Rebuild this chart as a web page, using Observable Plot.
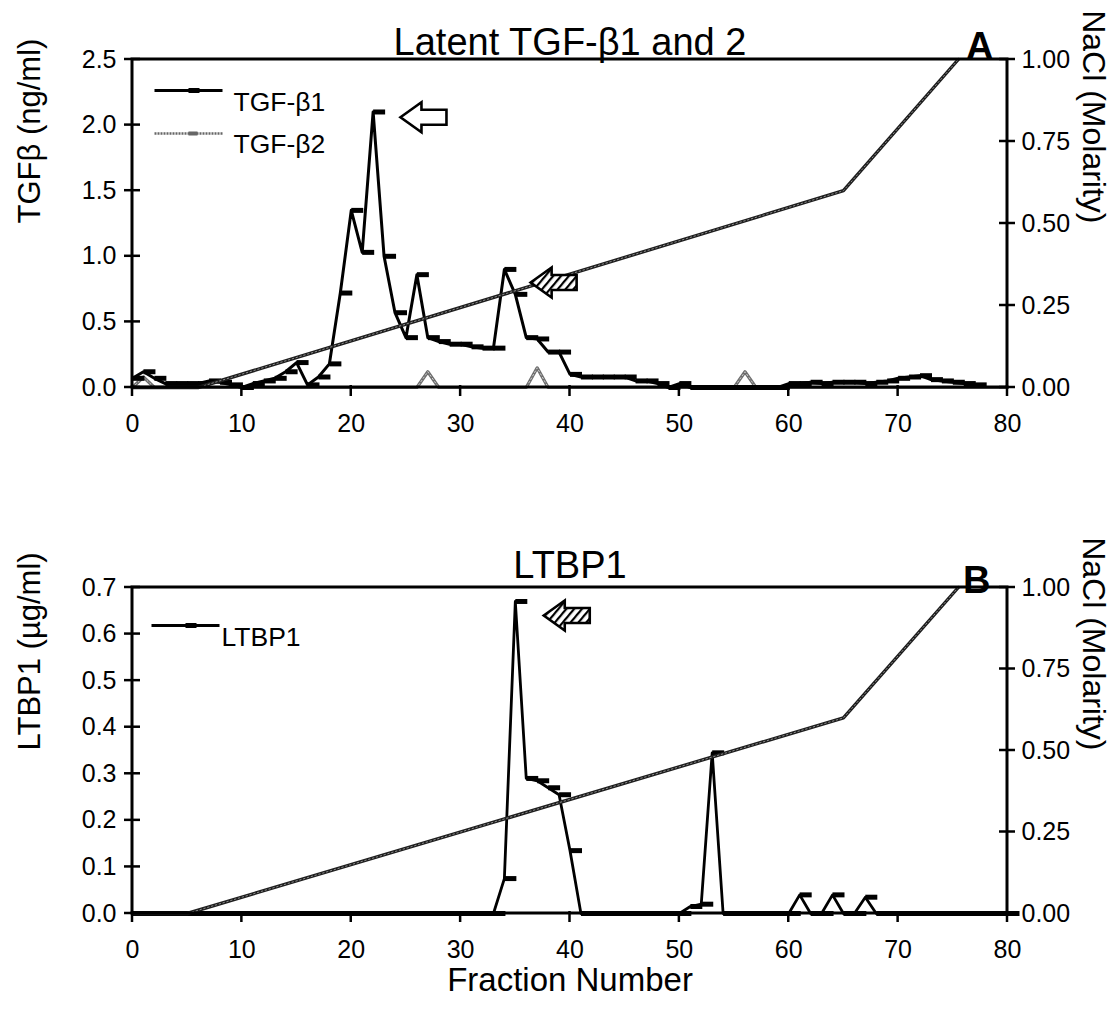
<!DOCTYPE html>
<html><head><meta charset="utf-8">
<script src="https://cdn.jsdelivr.net/npm/d3@7"></script>
<script src="https://cdn.jsdelivr.net/npm/@observablehq/plot@0.6"></script>
<style>
body{margin:0;background:#fff;}
#chart{width:1112px;}
svg{display:block;}
</style></head><body><div id="chart"></div>
<script>
// ---------- data (index = fraction number) ----------
const tgfb1 = [0.07,0.12,0.07,0.03,0.03,0.03,0.03,0.05,0.04,0.02,
  0.00,0.03,0.05,0.07,0.12,0.19,0.02,0.08,0.18,0.72,
  1.35,1.03,2.10,1.00,0.57,0.38,0.86,0.38,0.35,0.33,
  0.33,0.31,0.30,0.30,0.90,0.71,0.38,0.37,0.27,0.27,
  0.10,0.08,0.08,0.08,0.08,0.08,0.05,0.05,0.03,0.00,
  0.03,0.00,0.00,0.00,0.00,0.00,0.00,0.00,0.00,0.00,
  0.03,0.03,0.04,0.03,0.04,0.04,0.04,0.03,0.04,0.05,
  0.07,0.08,0.09,0.06,0.05,0.04,0.03,0.02];
const tgfb2 = [0,0.08,0,0,0,0,0,0,0,0,
  0,0,0,0,0,0,0,0,0,0,
  0,0,0,0,0,0,0,0.12,0,0,
  0,0,0,0,0,0,0,0.15,0,0,
  0,0,0,0,0,0,0,0,0,0,
  0,0,0,0,0,0,0.12,0,0,0,
  0,0,0,0,0,0,0,0,0,0,
  0,0,0,0,0,0,0,0,0,0,0];
const ltbp1 = [0,0,0,0,0,0,0,0,0,0,
  0,0,0,0,0,0,0,0,0,0,
  0,0,0,0,0,0,0,0,0,0,
  0,0,0,0,0.075,0.67,0.29,0.285,0.27,0.255,
  0.135,0,0,0,0,0,0,0,0,0,
  0,0.015,0.02,0.345,0,0,0,0,0,0,
  0,0.04,0,0,0.04,0,0,0.035,0,0,
  0,0,0,0,0,0,0,0,0,0,0];
const naclFractionA = [0, 6, 65, 75.5];
const naclMolarityA = [0, 0, 0.6, 1.0];
const naclFractionB = [0, 5, 65, 75.5];
const naclMolarityB = [0, 0, 0.6, 1.0];
const xDomain = [0, 80];
const xTicks = [0,10,20,30,40,50,60,70,80];
const yTicksA = [0,0.5,1.0,1.5,2.0,2.5];
const yTicksB = [0,0.1,0.2,0.3,0.4,0.5,0.6,0.7];
const naclTicks = [0,0.25,0.5,0.75,1.0];
const arrowFractionA = [24.5, 36.4];
const arrowValueA = [2.06, 0.80];
const arrowKindA = ["open","hatched"];
const arrowFractionB = [37.6];
const arrowValueB = [0.64];
const arrowKindB = ["hatched"];

// ---------- tables ----------
const toRows = vals => vals.map((v,i)=>({fraction:i, value:v}));
const naclRows = (f,m) => f.map((x,i)=>({fraction:x, molarity:m[i]}));
const arrowRows = (f,v,k) => f.map((x,i)=>({fraction:x, value:v[i], kind:k[i]}));

// ---------- symbols ----------
function rect(ctx,x,y,w,h){ctx.moveTo(x,y);ctx.lineTo(x+w,y);ctx.lineTo(x+w,y+h);ctx.lineTo(x,y+h);ctx.closePath();}
const dashSymbol = {draw(ctx){ rect(ctx,0,-2.5,12,5); }};
const arrowSymbol = {draw(ctx){ ctx.moveTo(0,0); ctx.lineTo(21,-15); ctx.lineTo(21,-7.5); ctx.lineTo(46,-7.5); ctx.lineTo(46,7.5); ctx.lineTo(21,7.5); ctx.lineTo(21,15); ctx.closePath(); }};
const swatchSolid = {draw(ctx){ rect(ctx,-34,-1.5,68,3); rect(ctx,0,-2.6,11,5.2); }};
const swatchGrey = {draw(ctx){ for(let x=-34;x<34;x+=3) rect(ctx,x,-1.2,2,2.4); rect(ctx,0,-2,9,4); }};

const font = "'Liberation Sans', Arial, Helvetica, sans-serif";
const W = 1112, ML = 132, MR = 105;

function naclMarks(rows, yMax){
  return [
    Plot.line(rows,{x:"fraction", y:d=>d.molarity*yMax, stroke:"#1e1e1e", strokeWidth:3.4}),
    Plot.line(rows,{x:"fraction", y:d=>d.molarity*yMax, stroke:"#8c8c8c", strokeWidth:1, strokeDasharray:"1.5,2.5"})
  ];
}
function labelMarks(yMax, yTicks){
  const rTicks = naclTicks.map(t=>t*yMax);
  return [
    Plot.axisY(yTicks,{anchor:"left", tickSize:0, tickPadding:16, fontSize:25, tickFormat:d3.format(".1f"), label:null}),
    Plot.axisY(rTicks,{anchor:"right", tickSize:0, tickPadding:14, fontSize:25, tickFormat:d=>d3.format(".2f")(d/yMax), label:null}),
    Plot.axisX(xTicks,{anchor:"bottom", tickSize:0, tickPadding:27, fontSize:25, label:null})
  ];
}
function arrowMarks(rows, id){
  return [
    Plot.dot(rows.filter(d=>d.kind==="open"),{x:"fraction", y:"value", symbol:arrowSymbol, fill:"white", stroke:"black", strokeWidth:2.6}),
    Plot.dot(rows.filter(d=>d.kind==="hatched"),{x:"fraction", y:"value", symbol:arrowSymbol, fill:`url(#${id})`, stroke:"black", strokeWidth:2.6})
  ];
}
function addHatch(svg, id){
  const defs = d3.select(svg).append("defs");
  const p = defs.append("pattern").attr("id",id).attr("patternUnits","userSpaceOnUse")
    .attr("width",6).attr("height",6).attr("patternTransform","rotate(40)");
  p.append("rect").attr("width",6).attr("height",6).attr("fill","white");
  p.append("line").attr("x1",1).attr("y1",0).attr("x2",1).attr("y2",6).attr("stroke","black").attr("stroke-width",2.4);
}
// frame box and crossing ticks, placed with the plot's own scales
function addFrame(svg, yMax, yTicks){
  try {
    const sx = v => svg.scale("x").apply(v), sy = v => svg.scale("y").apply(v);
    const x0 = sx(xDomain[0]), x1 = sx(xDomain[1]), yTop = sy(yMax), yBot = sy(0);
    const g = d3.select(svg).append("g").attr("stroke","black").attr("fill","none");
    g.append("path").attr("d",`M${x0},${yBot}V${yTop}H${x1}V${yBot}Z`).attr("stroke-width",3).attr("stroke-linejoin","miter");
    yTicks.forEach(t=>g.append("path").attr("d",`M${x0-8},${sy(t)}H${x0+8}`).attr("stroke-width",2.5));
    naclTicks.forEach(t=>g.append("path").attr("d",`M${x1-8},${sy(t*yMax)}H${x1+8}`).attr("stroke-width",2.5));
    xTicks.forEach(t=>g.append("path").attr("d",`M${sx(t)},${yBot-2}V${yBot+9}`).attr("stroke-width",2.5));
  } catch(e) {}
}

// ---------- Panel A ----------
const yMaxA = 2.5;
const svgA = Plot.plot({
  width:W, height:440, marginLeft:ML, marginRight:MR, marginTop:59, marginBottom:53,
  style:{fontFamily:font, background:"white", color:"black", overflow:"visible"},
  x:{domain:xDomain, axis:null, label:null},
  y:{domain:[0,yMaxA], axis:null, label:null},
  marks:[
    Plot.line(toRows(tgfb2),{x:"fraction", y:"value", stroke:"#6e6e6e", strokeWidth:3.2}),
    Plot.line(toRows(tgfb2),{x:"fraction", y:"value", stroke:"#d0d0d0", strokeWidth:1, strokeDasharray:"1.5,2.5"}),
    Plot.line(toRows(tgfb1),{x:"fraction", y:"value", stroke:"black", strokeWidth:3}),
    Plot.dot(toRows(tgfb1),{x:"fraction", y:"value", symbol:dashSymbol, fill:"black", stroke:"none"}),
    ...naclMarks(naclRows(naclFractionA,naclMolarityA), yMaxA),
    ...arrowMarks(arrowRows(arrowFractionA,arrowValueA,arrowKindA), "hatchA"),
    ...labelMarks(yMaxA, yTicksA),
    Plot.dot([0],{frameAnchor:"top-left", dx:56, dy:31, symbol:swatchSolid, fill:"black", stroke:"none"}),
    Plot.text(["TGF-β1"],{frameAnchor:"top-left", dx:101, dy:33, textAnchor:"start", fontSize:26.5}),
    Plot.dot([0],{frameAnchor:"top-left", dx:56, dy:74, symbol:swatchGrey, fill:"#666", stroke:"none"}),
    Plot.text(["TGF-β2"],{frameAnchor:"top-left", dx:101, dy:75, textAnchor:"start", fontSize:26.5}),
    Plot.text(["Latent TGF-β1 and 2"],{frameAnchor:"top", dy:-31, fontSize:38}),
    Plot.text(["A"],{frameAnchor:"top-right", dx:-14, dy:-27, fontSize:38, fontWeight:"bold"}),
    Plot.text(["TGFβ (ng/ml)"],{frameAnchor:"left", dx:-102, rotate:-90, fontSize:31}),
    Plot.text(["NaCl (Molarity)"],{frameAnchor:"right", dx:86, rotate:90, fontSize:32})
  ]
});
addHatch(svgA, "hatchA");
addFrame(svgA, yMaxA, yTicksA);

// ---------- Panel B ----------
const yMaxB = 0.7;
const svgB = Plot.plot({
  width:W, height:581, marginLeft:ML, marginRight:MR, marginTop:147, marginBottom:108,
  style:{fontFamily:font, background:"white", color:"black", overflow:"visible"},
  x:{domain:xDomain, axis:null, label:null},
  y:{domain:[0,yMaxB], axis:null, label:null},
  marks:[
    Plot.line(toRows(ltbp1),{x:"fraction", y:"value", stroke:"black", strokeWidth:2.8}),
    Plot.dot(toRows(ltbp1),{x:"fraction", y:"value", symbol:dashSymbol, fill:"black", stroke:"none"}),
    ...naclMarks(naclRows(naclFractionB,naclMolarityB), yMaxB),
    ...arrowMarks(arrowRows(arrowFractionB,arrowValueB,arrowKindB), "hatchB"),
    ...labelMarks(yMaxB, yTicksB),
    Plot.dot([0],{frameAnchor:"top-left", dx:53, dy:38, symbol:swatchSolid, fill:"black", stroke:"none"}),
    Plot.text(["LTBP1"],{frameAnchor:"top-left", dx:89, dy:40, textAnchor:"start", fontSize:26.5}),
    Plot.text(["LTBP1"],{frameAnchor:"top", dy:-36, fontSize:38}),
    Plot.text(["B"],{frameAnchor:"top-right", dx:-17, dy:-21, fontSize:38, fontWeight:"bold"}),
    Plot.text(["LTBP1 (µg/ml)"],{frameAnchor:"left", dx:-102, rotate:-90, fontSize:31}),
    Plot.text(["NaCl (Molarity)"],{frameAnchor:"right", dx:86, rotate:90, fontSize:32}),
    Plot.text(["Fraction Number"],{frameAnchor:"bottom", dy:77, fontSize:33})
  ]
});
addHatch(svgB, "hatchB");
addFrame(svgB, yMaxB, yTicksB);

document.getElementById("chart").append(svgA, svgB);
</script>
</body></html>
